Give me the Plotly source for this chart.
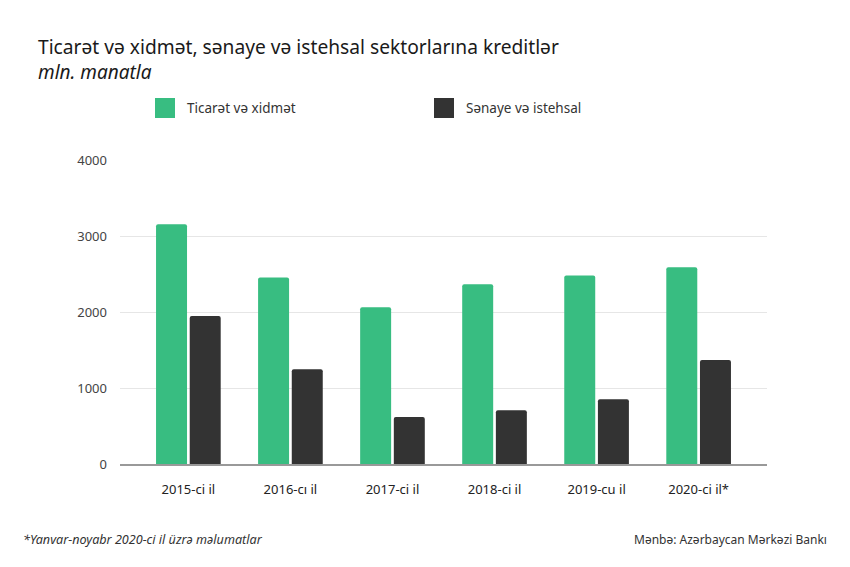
import plotly.graph_objects as go

categories = ["2015-ci il", "2016-cı il", "2017-ci il", "2018-ci il", "2019-cu il", "2020-ci il*"]
ticaret = [3160, 2460, 2065, 2370, 2485, 2595]
senaye = [1950, 1250, 620, 710, 855, 1370]
y_ticks = [0, 1000, 2000, 3000, 4000]

GREEN = "#38bd81"
DARK = "#333333"
FONT = "Noto Sans"
OFF = 8  # page body offset

fig = go.Figure()
fig.add_trace(go.Bar(x=categories, y=ticaret, name="Ticarət və xidmət",
                     marker=dict(color=GREEN, cornerradius=2, line=dict(width=0))))
fig.add_trace(go.Bar(x=categories, y=senaye, name="Sənaye və istehsal",
                     marker=dict(color=DARK, cornerradius=2, line=dict(width=0))))

fig.update_layout(
    width=850, height=567,
    margin=dict(l=120 - OFF, r=83 + OFF, t=160 - OFF, b=103 + OFF),
    paper_bgcolor="white", plot_bgcolor="white",
    barmode="group", bargap=0.34, bargroupgap=0.08,
    showlegend=False,
    font=dict(family=FONT, color="#333333"),
    xaxis=dict(range=[-0.67, 5.67], showgrid=False, showline=True, linecolor="#999999",
               linewidth=1.5, ticks="", tickfont=dict(size=13, color="#222222", family=FONT),
               ticklabelstandoff=13),
    yaxis=dict(range=[0, 4008], tickvals=y_ticks, showgrid=True, gridcolor="#e6e6e6",
               gridwidth=1, zeroline=False, showline=False, ticks="",
               tickfont=dict(size=13, color="#444444", family=FONT), ticklabelstandoff=12),
)

def paper_x(px):
    return (px - 120) / 647
def paper_y(py):
    return (464 - py) / 304

fig.add_annotation(text="Ticarət və xidmət, sənaye və istehsal sektorlarına kreditlər",
                   xref="paper", yref="paper", x=paper_x(36), y=paper_y(46),
                   xanchor="left", yanchor="middle", showarrow=False,
                   font=dict(size=19.2, color="#1a1a1a", family=FONT))
fig.add_annotation(text="<i>mln. manatla</i>",
                   xref="paper", yref="paper", x=paper_x(36), y=paper_y(72),
                   xanchor="left", yanchor="middle", showarrow=False,
                   font=dict(size=19, color="#1a1a1a", family=FONT))

# Legend (custom)
legend_items = [("Ticarət və xidmət", GREEN, 155), ("Sənaye və istehsal", DARK, 434)]
for label, color, x0 in legend_items:
    fig.add_shape(type="rect", xref="paper", yref="paper",
                  x0=paper_x(x0), x1=paper_x(x0 + 20), y0=paper_y(118), y1=paper_y(98),
                  fillcolor=color, line=dict(width=0))
    fig.add_annotation(text=label, xref="paper", yref="paper",
                       x=paper_x(x0 + 30), y=paper_y(108), xanchor="left", yanchor="middle",
                       showarrow=False, font=dict(size=13.5, color="#333333", family=FONT))

# Footer
fig.add_annotation(text="<i>*Yanvar-noyabr 2020-ci il üzrə məlumatlar</i>",
                   xref="paper", yref="paper", x=paper_x(21), y=paper_y(539),
                   xanchor="left", yanchor="middle", showarrow=False,
                   font=dict(size=12.6, color="#333333", family=FONT))
fig.add_annotation(text="Mənbə: Azərbaycan Mərkəzi Bankı",
                   xref="paper", yref="paper", x=paper_x(829), y=paper_y(539),
                   xanchor="right", yanchor="middle", showarrow=False,
                   font=dict(size=12, color="#333333", family=FONT))

fig.write_html("out.html")
